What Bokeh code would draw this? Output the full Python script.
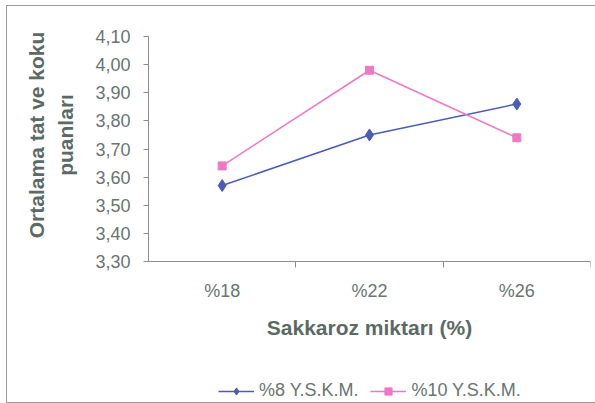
import math
from bokeh.plotting import figure
from bokeh.models import (FixedTicker, CustomJSTickFormatter, Legend, LegendItem,
                          Range1d, Label)
from bokeh.embed import file_html
from bokeh.resources import INLINE

# ---- data ----
categories = ["%18", "%22", "%26"]
series_names = ["%8 Y.S.K.M.", "%10 Y.S.K.M."]
series_8 = [3.57, 3.75, 3.86]
series_10 = [3.64, 3.98, 3.74]
y_ticks = [3.30, 3.40, 3.50, 3.60, 3.70, 3.80, 3.90, 4.00, 4.10]
x_title = "Sakkaroz miktarı (%)"
y_title = "Ortalama tat ve koku\npuanları"

BLUE = "#4a5cb6"
PINK = "#ee78c4"
TXT = "#6a7471"
TITLE = "#5b6a65"
AX = "#8e8e8e"
FONT = "Liberation Sans"

# ---- layout (pixels) ----
W, H = 588, 396
TOP, RIGHT = 30, 5      # TOP: pixel row of the value 4,10
AXIS_X = 141            # x pixel of the value axis inside the canvas
CAT_PX = 442 / 3        # width of one category band
AXIS_PX = 225           # pixel height of the value axis (3,30 .. 4,10)
FRAME_W = W - RIGHT
n = len(categories)
span = y_ticks[-1] - y_ticks[0]
x_start = -AXIS_X / CAT_PX
x_end = x_start + FRAME_W / CAT_PX
y_end = y_ticks[-1] + span * TOP / AXIS_PX
y_start = y_ticks[-1] - span * (H - TOP) / AXIS_PX

x = [i + 0.5 for i in range(n)]
bounds = [i + 1 for i in range(n)]

p = figure(width=W, height=H, output_backend="svg", toolbar_location=None,
           x_range=Range1d(x_start, x_end), y_range=Range1d(y_start, y_end),
           min_border_left=0, min_border_right=RIGHT, min_border_top=0,
           min_border_bottom=0)
p.styles = {"outline": "1px solid #9a9a9a", "margin-left": "7px", "margin-top": "6px"}
p.outline_line_color = None
p.xgrid.visible = False
p.ygrid.visible = False
p.background_fill_color = "white"
p.border_fill_color = "white"

# y axis, drawn at the start of the first category
ya = p.yaxis[0]
ya.fixed_location = 0
ya.bounds = (y_ticks[0], y_ticks[-1])
ya.ticker = FixedTicker(ticks=y_ticks, minor_ticks=[])
ya.formatter = CustomJSTickFormatter(code="return tick.toFixed(2).replace('.', ',');")
ya.major_tick_out = 5
ya.major_tick_in = 0
ya.minor_tick_out = 0
ya.minor_tick_in = 0
ya.axis_line_color = AX
ya.major_tick_line_color = AX
ya.major_label_text_font = FONT
ya.major_label_text_font_size = "18px"
ya.major_label_text_color = TXT
ya.major_label_standoff = 13

# y axis title (two centred lines)
p.add_layout(Label(x=(43.5 - AXIS_X) / CAT_PX,
                   y=(y_ticks[0] + y_ticks[-1]) / 2 + 0.05,
                   text=y_title, angle=math.pi / 2,
                   text_align="center", text_baseline="middle",
                   text_font=FONT, text_font_size="21px", text_font_style="bold",
                   text_color=TITLE, text_line_height=1.3))

# x axis, drawn at the value 3,30
xa = p.xaxis[0]
xa.fixed_location = y_ticks[0]
xa.bounds = (0, n)
xa.ticker = FixedTicker(ticks=x, minor_ticks=bounds)
xa.formatter = CustomJSTickFormatter(args=dict(cats=categories),
                                     code="return cats[Math.floor(tick)];")
xa.major_tick_out = 0
xa.major_tick_in = 0
xa.minor_tick_out = 6
xa.minor_tick_in = 0
xa.axis_line_color = AX
xa.minor_tick_line_color = AX
xa.major_label_text_font = FONT
xa.major_label_text_font_size = "18px"
xa.major_label_text_color = TXT
xa.major_label_standoff = 13
xa.axis_label = x_title
xa.axis_label_text_font = FONT
xa.axis_label_text_font_size = "21px"
xa.axis_label_text_font_style = "bold"
xa.axis_label_text_color = TITLE
xa.axis_label_standoff = 12

# series
l1 = p.line(x, series_8, line_color=BLUE, line_width=1.5)
s1 = p.scatter(x, series_8, marker="diamond", size=12, fill_color=BLUE, line_color=BLUE)
l2 = p.line(x, series_10, line_color=PINK, line_width=1.5)
s2 = p.scatter(x, series_10, marker="square", size=8, fill_color=PINK, line_color=PINK)

legend = Legend(items=[LegendItem(label=series_names[0], renderers=[l1, s1]),
                       LegendItem(label=series_names[1], renderers=[l2, s2])],
                orientation="horizontal", location=(211, 1))
legend.label_text_font = FONT
legend.label_text_font_size = "18px"
legend.label_text_color = TXT
legend.glyph_width = 36
legend.glyph_height = 18
legend.label_standoff = 5
legend.spacing = 12
legend.padding = 2
legend.margin = 0
legend.border_line_color = None
legend.background_fill_alpha = 0
p.add_layout(legend, "center")

open("out.html", "w").write(file_html(p, INLINE))
